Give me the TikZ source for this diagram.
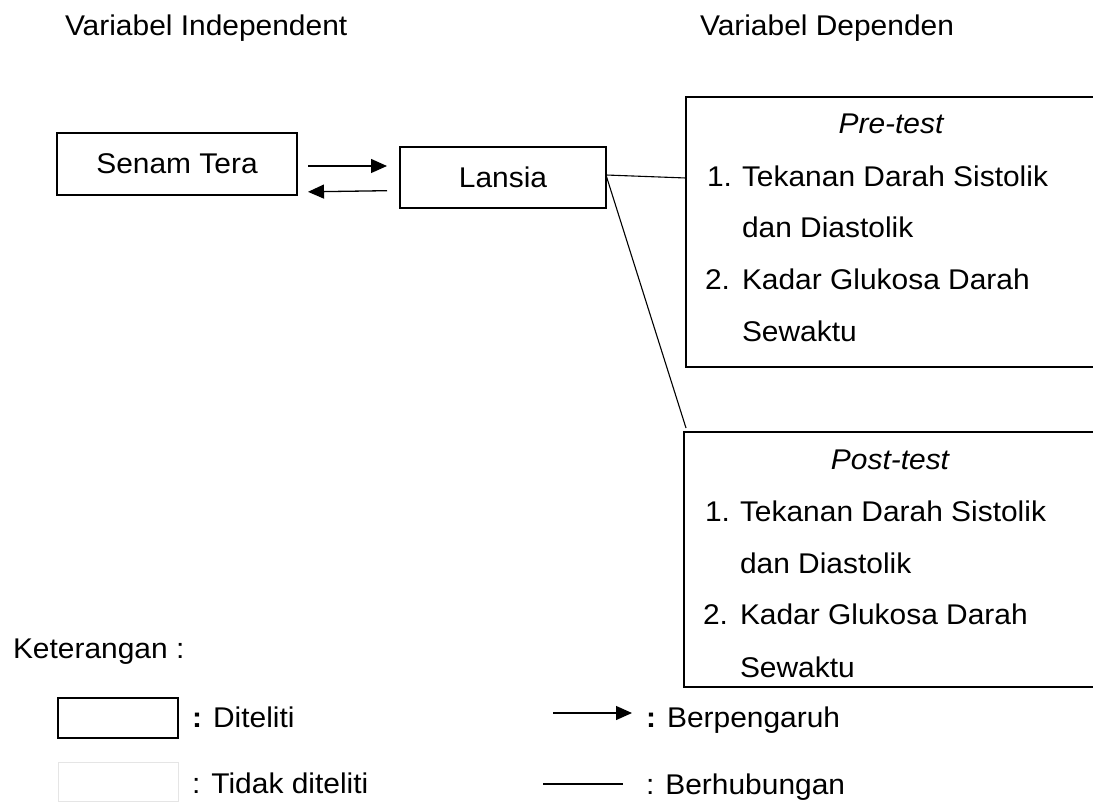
\documentclass[tikz,border=0pt]{standalone}
\usepackage{fontspec}
\setmainfont{Liberation Sans}[FakeStretch=1.05]
\usetikzlibrary{arrows.meta}
\begin{document}
\begin{tikzpicture}[x=1pt,y=-1pt,
  every node/.style={inner sep=0pt, outer sep=0pt, font=\fontsize{28.5}{34}\selectfont},
  txt/.style={anchor=base west},
  ctxt/.style={anchor=base},
  boxed/.style={draw, line width=1.6pt, rectangle},
  boxline/.style={line width=1.6pt},
  link/.style={line width=1.1pt},
  infl/.style={line width=1.3pt, -{Triangle[length=16pt,width=14pt]}}]
\useasboundingbox (0,0) rectangle (1093,802);

% titles
\node[txt] (tind) at (65,36) {Variabel Independent};
\node[txt] (tdep) at (700,36) {Variabel Dependen};

% main boxes
\node[boxed, minimum width=240pt, minimum height=62pt] (senam) at (177,164) {Senam Tera};
\node[boxed, minimum width=206pt, minimum height=61pt] (lansia) at (503,177.5) {Lansia};

% arrows between Senam Tera and Lansia
\draw[infl, shorten <=11pt, shorten >=13pt] ([yshift=-2pt]senam.east) -- ([yshift=11.5pt]lansia.west);
\draw[infl, shorten <=13pt, shorten >=11pt] ([yshift=-13pt]lansia.west) -- ([yshift=-28pt]senam.east);

% dependent boxes (open at the right edge)
\node[minimum width=407pt, minimum height=270pt] (pre) at (889.5,232) {};
\draw[boxline] (pre.north east) -- (pre.north west) -- (pre.south west) -- (pre.south east);
\node[minimum width=409pt, minimum height=255pt] (post) at (888.5,559.5) {};
\draw[boxline] (post.north east) -- (post.north west) -- (post.south west) -- (post.south east);

% connectors from Lansia
\draw[link] ([yshift=2.5pt]lansia.east) -- ([yshift=54pt]pre.west);
\draw[link] ([yshift=2.5pt]lansia.east) -- ([xshift=2pt,yshift=4pt]post.north west);

% pre-test texts
\node[ctxt] (pret) at (891,134) {\itshape Pre-test};
\node[txt] (pre1n) at (707,187) {1.};
\node[txt] (pre1) at (742,187) {Tekanan Darah Sistolik};
\node[txt] (pre1b) at (742,238) {dan Diastolik};
\node[txt] (pre2n) at (705,290) {2.};
\node[txt] (pre2) at (742,290) {Kadar Glukosa Darah};
\node[txt] (pre2b) at (742,342) {Sewaktu};

% post-test texts
\node[ctxt] (postt) at (890,469) {\itshape Post-test};
\node[txt] (post1n) at (705,521) {1.};
\node[txt] (post1) at (740,521) {Tekanan Darah Sistolik};
\node[txt] (post1b) at (740,573) {dan Diastolik};
\node[txt] (post2n) at (703,624) {2.};
\node[txt] (post2) at (740,624) {Kadar Glukosa Darah};
\node[txt] (post2b) at (740,677) {Sewaktu};

% legend
\node[txt] (ket) at (13,658) {Keterangan :};
\node[boxed, minimum width=120pt, minimum height=40pt] (lg1) at (118,718) {};
\node[draw=black!10, line width=0.8pt, minimum width=120pt, minimum height=39pt] (lg2) at (118,781.5) {};
\node[txt] (lg1t) at (192,727) {\textbf{:} Diteliti};
\node[txt] (lg2t) at (192,793) {: Tidak diteliti};
\coordinate (la1) at (553,713);
\coordinate (la2) at (632,713);
\draw[infl] (la1) -- (la2);
\node[txt] (lg3t) at (646,727) {\textbf{:} Berpengaruh};
\coordinate (lb1) at (543,784);
\coordinate (lb2) at (623,784);
\draw[link] (lb1) -- (lb2);
\node[txt] (lg4t) at (646,794) {: Berhubungan};
\end{tikzpicture}
\end{document}
